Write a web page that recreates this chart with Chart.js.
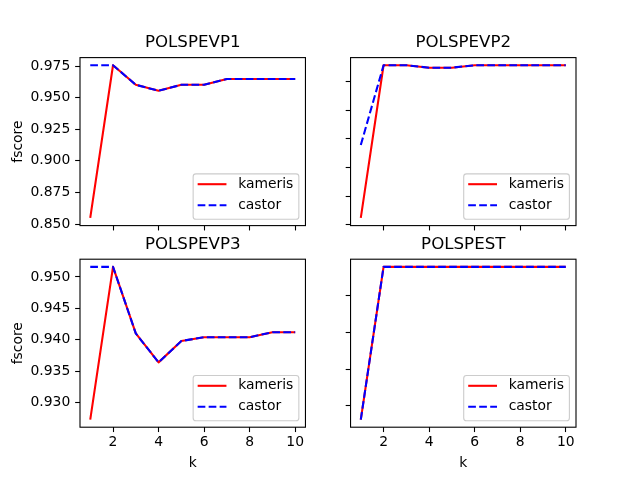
<!DOCTYPE html>
<html><head><meta charset="utf-8">
<script src="https://cdn.jsdelivr.net/npm/chart.js@4.4.1/dist/chart.umd.min.js"></script>
<style>
html,body{margin:0;padding:0;background:#fff;}
#wrap{position:relative;width:640px;height:480px;background:#fff;}
canvas{position:absolute;left:0;top:0;}
</style></head><body>
<div id="wrap">
<canvas id="c1" width="640" height="480"></canvas>
<canvas id="c2" width="640" height="480"></canvas>
<canvas id="c3" width="640" height="480"></canvas>
<canvas id="c4" width="640" height="480"></canvas>
</div>
<script>
// ---------- data ----------
const k = [1, 2, 3, 4, 5, 6, 7, 8, 9, 10];
const xTicks = [2, 4, 6, 8, 10];
const xTickLabels = ['2', '4', '6', '8', '10'];
const titles = ['POLSPEVP1', 'POLSPEVP2', 'POLSPEVP3', 'POLSPEST'];
const seriesNames = ['kameris', 'castor'];
const xLabel = 'k';
const yLabel = 'fscore';

const kameris1 = [0.8548, 0.9757, 0.9602, 0.9555, 0.9602, 0.9602, 0.9648, 0.9648, 0.9648, 0.9648];
const castor1  = [0.9757, 0.9757, 0.9602, 0.9555, 0.9602, 0.9602, 0.9648, 0.9648, 0.9648, 0.9648];
const kameris2 = [0.8647, 0.9715, 0.9715, 0.9698, 0.9698, 0.9715, 0.9715, 0.9715, 0.9715, 0.9715];
const castor2  = [0.9157, 0.9715, 0.9715, 0.9698, 0.9698, 0.9715, 0.9715, 0.9715, 0.9715, 0.9715];
const kameris3 = [0.9273, 0.9516, 0.9410, 0.9364, 0.9398, 0.9404, 0.9404, 0.9404, 0.9412, 0.9412];
const castor3  = [0.9516, 0.9516, 0.9410, 0.9364, 0.9398, 0.9404, 0.9404, 0.9404, 0.9412, 0.9412];
const kameris4 = [0.9163, 0.9579, 0.9579, 0.9579, 0.9579, 0.9579, 0.9579, 0.9579, 0.9579, 0.9579];
const castor4  = [0.9163, 0.9579, 0.9579, 0.9579, 0.9579, 0.9579, 0.9579, 0.9579, 0.9579, 0.9579];

const yTicks1 = [0.850, 0.875, 0.900, 0.925, 0.950, 0.975];
const yTickLabels1 = ['0.850', '0.875', '0.900', '0.925', '0.950', '0.975'];
const yTicks2 = [0.86, 0.88, 0.90, 0.92, 0.94, 0.96];
const yTicks3 = [0.930, 0.935, 0.940, 0.945, 0.950];
const yTickLabels3 = ['0.930', '0.935', '0.940', '0.945', '0.950'];
const yTicks4 = [0.92, 0.93, 0.94, 0.95];

// ---------- styling / layout ----------
const FONT = 'DejaVu Sans';
Chart.defaults.color = '#000';
Chart.defaults.font.family = FONT;
const colLeft = [80, 350.55], colRight = [305.45, 576];
const rowTop = [57.6, 259.2], rowBottom = [225.6, 427.2];
const LW = 2.08;

const framePlugin = {
  id: 'frameAndLegend',
  afterDraw(chart) {
    const ctx = chart.ctx, a = chart.chartArea;
    ctx.save();
    ctx.strokeStyle = '#000';
    ctx.lineWidth = 1.1;
    ctx.strokeRect(a.left, a.top, a.right - a.left, a.bottom - a.top);
    // legend (lower right)
    const w = 105.7, h = 45.3;
    const bx = a.right - 6.6 - w, by = a.bottom - 6.4 - h;
    const r = 2.8;
    ctx.beginPath();
    ctx.moveTo(bx + r, by);
    ctx.lineTo(bx + w - r, by); ctx.arcTo(bx + w, by, bx + w, by + r, r);
    ctx.lineTo(bx + w, by + h - r); ctx.arcTo(bx + w, by + h, bx + w - r, by + h, r);
    ctx.lineTo(bx + r, by + h); ctx.arcTo(bx, by + h, bx, by + h - r, r);
    ctx.lineTo(bx, by + r); ctx.arcTo(bx, by, bx + r, by, r);
    ctx.closePath();
    ctx.fillStyle = 'rgba(255,255,255,0.8)';
    ctx.fill();
    ctx.strokeStyle = '#cccccc';
    ctx.lineWidth = 1.1;
    ctx.stroke();
    const items = chart.data.datasets.slice().sort((p, q) => p.legendIndex - q.legendIndex);
    items.forEach((ds, i) => {
      const yy = by + 10.3 + i * 21;
      ctx.beginPath();
      ctx.setLineDash(ds.borderDash || []);
      ctx.strokeStyle = ds.borderColor;
      ctx.lineWidth = LW;
      ctx.moveTo(bx + 4.5, yy);
      ctx.lineTo(bx + 33.3, yy);
      ctx.stroke();
      ctx.setLineDash([]);
      ctx.fillStyle = '#000';
      ctx.font = '13.9px "' + FONT + '"';
      ctx.textAlign = 'left';
      ctx.textBaseline = 'middle';
      ctx.fillText(ds.label, bx + 45, yy);
    });
    ctx.restore();
  }
};

function range(arrs) {
  const all = [].concat(...arrs);
  const mn = Math.min(...all), mx = Math.max(...all);
  const m = (mx - mn) * 0.05;
  return [mn - m, mx + m];
}

function makeChart(id, title, kam, cas, yT, yL, col, row) {
  const showY = col === 0, showX = row === 1;
  const yAxisW = showY ? 80 : 20;
  const xAxisH = showX ? 52.8 : 10;
  const [ymin, ymax] = range([kam, cas]);
  const [xmin, xmax] = range([k]);
  return new Chart(document.getElementById(id), {
    type: 'line',
    data: {
      datasets: [
        { label: seriesNames[0], legendIndex: 0, order: 1,
          data: k.map((x, i) => ({x: x, y: kam[i]})),
          borderColor: '#ff0000', borderWidth: LW, pointRadius: 0, tension: 0, fill: false,
          borderJoinStyle: 'round' },
        { label: seriesNames[1], legendIndex: 1, order: 0,
          data: k.map((x, i) => ({x: x, y: cas[i]})),
          borderColor: '#0000ff', borderWidth: LW, borderDash: [7.7, 3.3], pointRadius: 0, tension: 0, fill: false,
          borderJoinStyle: 'round' }
      ]
    },
    options: {
      responsive: false, animation: false, devicePixelRatio: 1,
      layout: { padding: {
        left: colLeft[col] - yAxisW,
        right: 640 - colRight[col],
        top: rowTop[row] - 57.6,
        bottom: 480 - rowBottom[row] - xAxisH } },
      plugins: {
        legend: { display: false },
        tooltip: { enabled: false },
        title: { display: true, text: title, fullSize: false,
          font: { family: FONT, size: 16.67, weight: 'normal', lineHeight: 1.2 },
          color: '#000', padding: { top: 33, bottom: 4.6 } }
      },
      scales: {
        x: {
          type: 'linear', position: 'bottom', min: xmin, max: xmax,
          afterBuildTicks: s => { s.ticks = xTicks.map(v => ({value: v})); },
          afterFit: s => { s.height = xAxisH; },
          grid: { display: true, drawOnChartArea: false, drawTicks: true, tickLength: 4.86,
                  tickColor: '#000', tickWidth: 1.1, color: '#000' },
          border: { display: false },
          ticks: { display: showX, autoSkip: false, maxRotation: 0, padding: 2,
                   font: { family: FONT, size: 13.9, lineHeight: 1.2 }, color: '#000',
                   callback: (v, i) => xTickLabels[i] },
          title: { display: showX, text: xLabel, color: '#000',
                   font: { family: FONT, size: 13.9, lineHeight: 1.2 }, padding: { top: 0, bottom: 8.2 } }
        },
        y: {
          type: 'linear', position: 'left', min: ymin, max: ymax,
          afterBuildTicks: s => { s.ticks = yT.map(v => ({value: v})); },
          afterFit: s => { s.width = yAxisW; },
          grid: { display: true, drawOnChartArea: false, drawTicks: true, tickLength: 4.86,
                  tickColor: '#000', tickWidth: 1.1, color: '#000' },
          border: { display: false },
          ticks: { display: showY, autoSkip: false, padding: 4.86,
                   font: { family: FONT, size: 13.9, lineHeight: 1.2 }, color: '#000',
                   callback: (v, i) => (yL ? yL[i] : '') },
          title: { display: showY, text: yLabel, color: '#000',
                   font: { family: FONT, size: 13.9, lineHeight: 1.2 }, padding: { top: 10, bottom: 0 } }
        }
      }
    },
    plugins: [framePlugin]
  });
}

makeChart('c1', titles[0], kameris1, castor1, yTicks1, yTickLabels1, 0, 0);
makeChart('c2', titles[1], kameris2, castor2, yTicks2, null, 1, 0);
makeChart('c3', titles[2], kameris3, castor3, yTicks3, yTickLabels3, 0, 1);
makeChart('c4', titles[3], kameris4, castor4, yTicks4, null, 1, 1);
</script>
</body></html>
